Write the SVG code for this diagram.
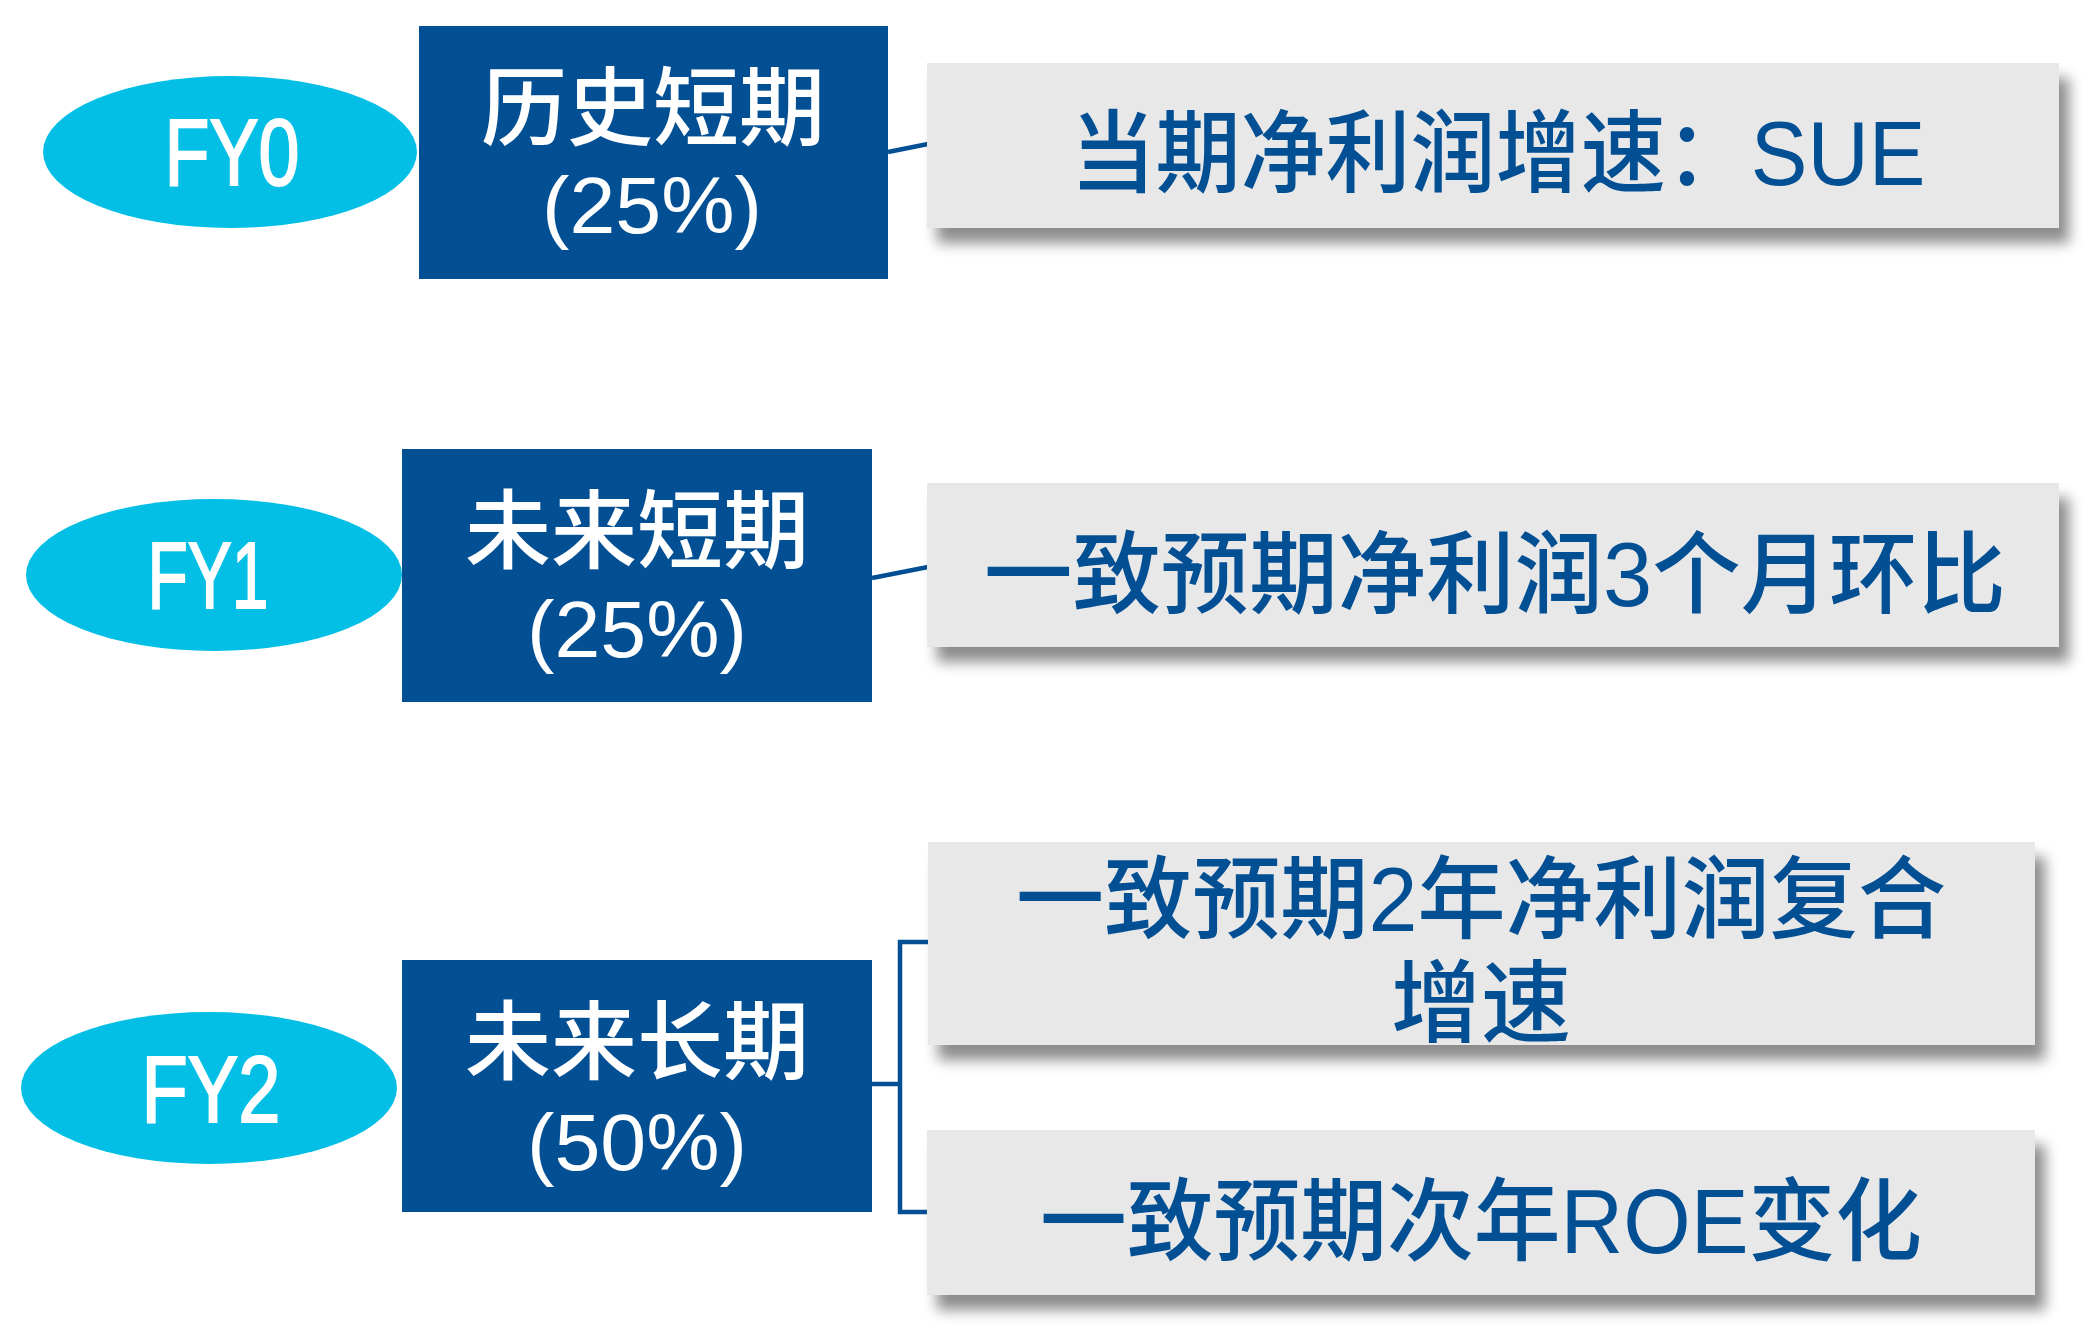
<svg xmlns="http://www.w3.org/2000/svg" width="2100" height="1339" viewBox="0 0 2100 1339">
<defs>
<style>
.ell{fill:#03BFE6;}
.rect{fill:#034F94;}
.card{fill:#E8E8E8;filter:url(#sh);}
.fy{font-family:"Liberation Sans","Noto Sans CJK SC",sans-serif;font-size:94px;fill:#FFFFFF;stroke:#FFFFFF;stroke-width:2;text-anchor:middle;}
.wt{font-family:"Liberation Sans","Noto Sans CJK SC",sans-serif;font-size:86px;font-weight:500;fill:#FFFFFF;text-anchor:middle;}
.pc{font-family:"Liberation Sans","Noto Sans CJK SC",sans-serif;font-size:79px;fill:#FFFFFF;text-anchor:middle;}
.bt{font-family:"Liberation Sans","Noto Sans CJK SC",sans-serif;font-size:90px;font-weight:500;fill:#034F94;text-anchor:middle;}
.ln{stroke:#034F94;stroke-width:4.5;fill:none;}
</style>
<filter id="sh" x="-5%" y="-20%" width="115%" height="160%">
<feDropShadow dx="10" dy="15" stdDeviation="7" flood-color="#000000" flood-opacity="0.45"/>
</filter>
</defs>
<rect width="2100" height="1339" fill="#FFFFFF"/>
<g id="connectors">
<line class="ln" x1="888" y1="152" x2="928" y2="144"/>
<line class="ln" x1="872" y1="578" x2="928" y2="567"/>
<line class="ln" x1="872" y1="1084" x2="900" y2="1084"/>
<polyline class="ln" points="928,942 900,942 900,1212 928,1212"/>
</g>
<g id="fy0">
<ellipse class="ell" cx="230" cy="152" rx="187" ry="76"/>
<text class="fy" x="232" y="185" textLength="135" lengthAdjust="spacingAndGlyphs">FY0</text>
</g>
<g id="hist">
<rect class="rect" x="419" y="26" width="469" height="253"/>
<text class="wt" x="653" y="139">历史短期</text>
<text class="pc" x="652" y="233" textLength="220" lengthAdjust="spacingAndGlyphs">(25%)</text>
</g>
<g id="sue">
<rect class="card" x="927" y="63" width="1132" height="165"/>
<text class="bt" x="1498" y="185" textLength="855" lengthAdjust="spacingAndGlyphs">当期净利润增速：SUE</text>
</g>
<g id="fy1">
<ellipse class="ell" cx="214" cy="575" rx="188" ry="76"/>
<text class="fy" x="208" y="608" textLength="121" lengthAdjust="spacingAndGlyphs">FY1</text>
</g>
<g id="future-short">
<rect class="rect" x="402" y="449" width="470" height="253"/>
<text class="wt" x="637" y="562">未来短期</text>
<text class="pc" x="637" y="657" textLength="220" lengthAdjust="spacingAndGlyphs">(25%)</text>
</g>
<g id="mom">
<rect class="card" x="927" y="483" width="1132" height="164"/>
<text class="bt" x="1495" y="606" textLength="1022" lengthAdjust="spacingAndGlyphs">一致预期净利润3个月环比</text>
</g>
<g id="fy2">
<ellipse class="ell" cx="209" cy="1088" rx="188" ry="76"/>
<text class="fy" x="211" y="1122" textLength="139" lengthAdjust="spacingAndGlyphs">FY2</text>
</g>
<g id="future-long">
<rect class="rect" x="402" y="960" width="470" height="252"/>
<text class="wt" x="637" y="1073">未来长期</text>
<text class="pc" x="637" y="1170" textLength="220" lengthAdjust="spacingAndGlyphs">(50%)</text>
</g>
<g id="cagr">
<rect class="card" x="928" y="842" width="1107" height="203"/>
<text class="bt" x="1481" y="931" textLength="930" lengthAdjust="spacingAndGlyphs">一致预期2年净利润复合</text>
<text class="bt" x="1481" y="1035">增速</text>
</g>
<g id="roe">
<rect class="card" x="927" y="1130" width="1108" height="165"/>
<text class="bt" x="1481" y="1253" textLength="882" lengthAdjust="spacingAndGlyphs">一致预期次年ROE变化</text>
</g>
</svg>
